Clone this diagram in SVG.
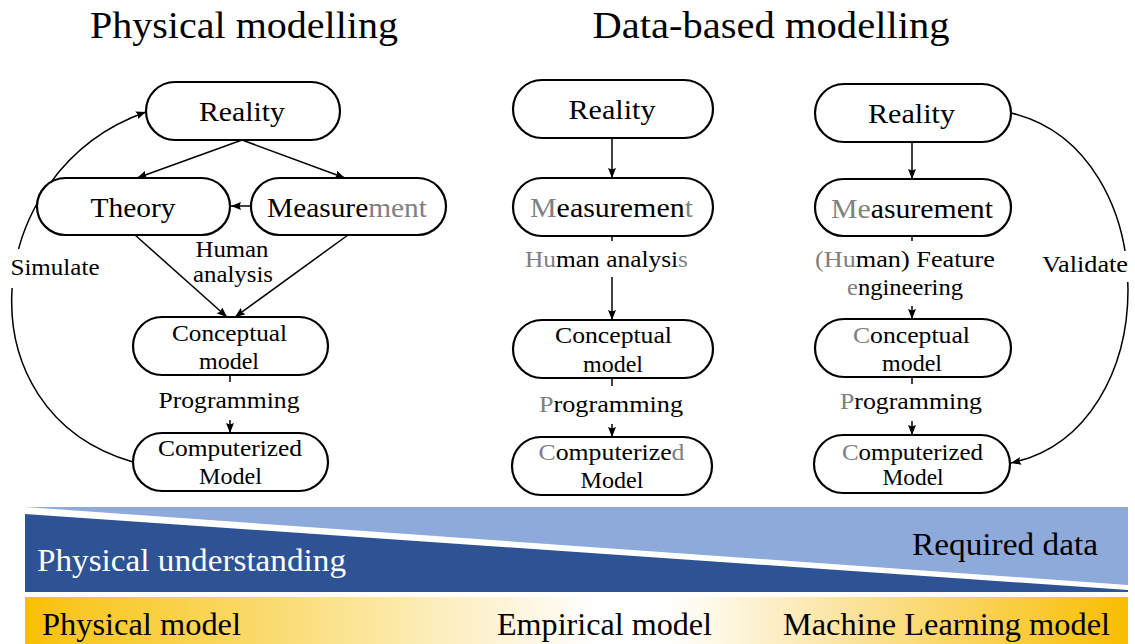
<svg xmlns="http://www.w3.org/2000/svg" width="1135" height="644" viewBox="0 0 1135 644" font-family="'Liberation Serif', 'DejaVu Serif', serif">
  <style>
    text { font-family: 'Liberation Serif', 'DejaVu Serif', 'Times New Roman', serif; fill: #000; }
    .title { font-size: 37px; text-anchor: middle; }
    .lbl { font-size: 28px; text-anchor: middle; }
    .sm { font-size: 23px; text-anchor: middle; }
    .band { font-size: 31px; }
    .g { fill: #808080; }
    .w { fill: #fff; }
    .box { fill: #fff; stroke: #000; stroke-width: 2.2; }
    .edge { fill: none; stroke: #000; stroke-width: 1.5; marker-end: url(#arr); }
    .mask { fill: #fff; }
  </style>
  <defs>
    <marker id="arr" viewBox="0 0 10 8" refX="10" refY="4" markerWidth="10" markerHeight="8" markerUnits="userSpaceOnUse" orient="auto">
      <path d="M0,0 L10,4 L0,8 L1.5,4 Z" fill="#000"/>
    </marker>
    <!-- grey ends, black straight sides -->
    <linearGradient id="gMid" x1="0" y1="0" x2="1" y2="0">
      <stop offset="0" stop-color="#808080"/>
      <stop offset="0.22" stop-color="#808080"/>
      <stop offset="0.22" stop-color="#000"/>
      <stop offset="0.82" stop-color="#000"/>
      <stop offset="0.82" stop-color="#808080"/>
      <stop offset="1" stop-color="#808080"/>
    </linearGradient>
    <!-- grey left end, black elsewhere -->
    <linearGradient id="gRight" x1="0" y1="0" x2="1" y2="0">
      <stop offset="0" stop-color="#808080"/>
      <stop offset="0.235" stop-color="#808080"/>
      <stop offset="0.235" stop-color="#000"/>
      <stop offset="1" stop-color="#000"/>
    </linearGradient>
    <!-- black left part, grey right part -->
    <linearGradient id="gMeas" x1="0" y1="0" x2="1" y2="0">
      <stop offset="0" stop-color="#000"/>
      <stop offset="0.63" stop-color="#000"/>
      <stop offset="0.63" stop-color="#808080"/>
      <stop offset="1" stop-color="#808080"/>
    </linearGradient>
    <linearGradient id="gold" gradientUnits="userSpaceOnUse" x1="25" y1="0" x2="1128" y2="0">
      <stop offset="0" stop-color="#F8BE00"/>
      <stop offset="0.05" stop-color="#F9C824"/>
      <stop offset="0.2" stop-color="#FAD864"/>
      <stop offset="0.35" stop-color="#FCEBB0"/>
      <stop offset="0.47" stop-color="#FEF8E8"/>
      <stop offset="0.52" stop-color="#FFFFFF"/>
      <stop offset="0.58" stop-color="#FFFFFF"/>
      <stop offset="0.66" stop-color="#FDF2D2"/>
      <stop offset="0.76" stop-color="#FBE196"/>
      <stop offset="0.88" stop-color="#FAD04C"/>
      <stop offset="1" stop-color="#F8BE00"/>
    </linearGradient>
  </defs>

  <rect width="1135" height="644" fill="#fff"/>

  <!-- headings -->
  <text class="title" x="244" y="38" textLength="308" lengthAdjust="spacingAndGlyphs">Physical modelling</text>
  <text class="title" x="771" y="38" textLength="357" lengthAdjust="spacingAndGlyphs">Data-based modelling</text>

  <!-- connectors -->
  <g id="connectors">
    <!-- physical modelling -->
    <line class="edge" x1="242" y1="140" x2="137" y2="178"/>
    <line class="edge" x1="242" y1="140" x2="345" y2="178"/>
    <line class="edge" x1="251" y1="206" x2="231" y2="206"/>
    <line class="edge" x1="135" y1="235" x2="227" y2="317"/>
    <line class="edge" x1="348" y1="235" x2="235" y2="317"/>
    <line class="edge" x1="230" y1="375" x2="230" y2="433"/>
    <path class="edge" d="M133,462 C-41,412 -20,170 146,112"/>
    <rect class="mask" x="5" y="249" width="98" height="39"/>
    <rect class="mask" x="150" y="382" width="160" height="38"/>
    <text class="sm" x="232" y="257" textLength="73" lengthAdjust="spacingAndGlyphs">Human</text>
    <text class="sm" x="233" y="282" textLength="80" lengthAdjust="spacingAndGlyphs">analysis</text>
    <text class="sm" x="55" y="275" textLength="89" lengthAdjust="spacingAndGlyphs">Simulate</text>
    <text class="sm" x="229" y="408" textLength="141" lengthAdjust="spacingAndGlyphs">Programming</text>

    <!-- data-based, human analysis -->
    <line class="edge" x1="612" y1="138" x2="612" y2="178"/>
    <line class="edge" x1="612" y1="236" x2="612" y2="320"/>
    <line class="edge" x1="612" y1="378" x2="612" y2="437"/>
    <rect class="mask" x="520" y="241" width="175" height="36"/>
    <rect class="mask" x="530" y="386" width="165" height="38"/>
    <text class="sm" x="606.5" y="267" textLength="163" lengthAdjust="spacingAndGlyphs"><tspan class="g">Hu</tspan>man analysi<tspan class="g">s</tspan></text>
    <text class="sm" x="611" y="412" textLength="144" lengthAdjust="spacingAndGlyphs"><tspan class="g">P</tspan>rogramming</text>

    <!-- data-based, feature engineering -->
    <line class="edge" x1="912" y1="142" x2="912" y2="179"/>
    <line class="edge" x1="912" y1="236" x2="912" y2="319"/>
    <line class="edge" x1="912" y1="377" x2="912" y2="435"/>
    <path class="edge" d="M1011,113 C1167,150 1167,430 1011,463"/>
    <rect class="mask" x="808" y="241" width="194" height="65"/>
    <rect class="mask" x="830" y="384" width="160" height="37"/>
    <rect class="mask" x="1038" y="251" width="95" height="31"/>
    <text class="sm" x="905" y="267" textLength="180" lengthAdjust="spacingAndGlyphs"><tspan class="g">(Hu</tspan>man) Feature</text>
    <text class="sm" x="905" y="295" textLength="116" lengthAdjust="spacingAndGlyphs"><tspan class="g">e</tspan>ngineering</text>
    <text class="sm" x="911" y="409" textLength="142" lengthAdjust="spacingAndGlyphs"><tspan class="g">P</tspan>rogramming</text>
    <text class="sm" x="1085" y="272" textLength="86" lengthAdjust="spacingAndGlyphs">Validate</text>
  </g>

  <!-- physical modelling nodes -->
  <g id="phys-reality">
    <rect class="box" x="146" y="82" width="194" height="58" rx="29"/>
    <text class="lbl" x="242" y="121" textLength="86" lengthAdjust="spacingAndGlyphs">Reality</text>
  </g>
  <g id="phys-theory">
    <rect class="box" x="37" y="178" width="193" height="57" rx="28.5"/>
    <text class="lbl" x="133" y="217" textLength="85" lengthAdjust="spacingAndGlyphs">Theory</text>
  </g>
  <g id="phys-measurement">
    <rect class="box" x="251" y="178" width="195" height="57" rx="28.5" stroke="url(#gMeas)"/>
    <text class="lbl" x="347" y="217" textLength="160" lengthAdjust="spacingAndGlyphs">Measure<tspan class="g">ment</tspan></text>
  </g>
  <g id="phys-conceptual">
    <rect class="box" x="133" y="317" width="195" height="58" rx="29"/>
    <text class="sm" x="229.5" y="341" textLength="115" lengthAdjust="spacingAndGlyphs">Conceptual</text>
    <text class="sm" x="229" y="369" textLength="60" lengthAdjust="spacingAndGlyphs">model</text>
  </g>
  <g id="phys-computerized">
    <rect class="box" x="133" y="433" width="195" height="58" rx="29"/>
    <text class="sm" x="230" y="456" textLength="144" lengthAdjust="spacingAndGlyphs">Computerized</text>
    <text class="sm" x="230.5" y="484" textLength="63" lengthAdjust="spacingAndGlyphs">Model</text>
  </g>

  <!-- data-based nodes, human analysis route -->
  <g id="emp-reality">
    <rect class="box" x="513" y="80" width="200" height="58" rx="29" stroke="url(#gMid)"/>
    <text class="lbl" x="612" y="119" textLength="87" lengthAdjust="spacingAndGlyphs">Reality</text>
  </g>
  <g id="emp-measurement">
    <rect class="box" x="513" y="178" width="200" height="58" rx="29" stroke="url(#gMid)"/>
    <text class="lbl" x="611.5" y="217" textLength="163" lengthAdjust="spacingAndGlyphs"><tspan class="g">M</tspan>easuremen<tspan class="g">t</tspan></text>
  </g>
  <g id="emp-conceptual">
    <rect class="box" x="513" y="320" width="200" height="58" rx="29" stroke="url(#gMid)"/>
    <text class="sm" x="613.5" y="343" textLength="117" lengthAdjust="spacingAndGlyphs">Conceptual</text>
    <text class="sm" x="613" y="372" textLength="60" lengthAdjust="spacingAndGlyphs">model</text>
  </g>
  <g id="emp-computerized">
    <rect class="box" x="512" y="437" width="200" height="58" rx="29" stroke="url(#gMid)"/>
    <text class="sm" x="611.5" y="460" textLength="146" lengthAdjust="spacingAndGlyphs"><tspan class="g">C</tspan>omputerize<tspan class="g">d</tspan></text>
    <text class="sm" x="612" y="488" textLength="63" lengthAdjust="spacingAndGlyphs">Model</text>
  </g>

  <!-- data-based nodes, feature engineering route -->
  <g id="ml-reality">
    <rect class="box" x="815" y="84" width="196" height="58" rx="29" stroke="url(#gRight)"/>
    <text class="lbl" x="911.5" y="123" textLength="87" lengthAdjust="spacingAndGlyphs">Reality</text>
  </g>
  <g id="ml-measurement">
    <rect class="box" x="815" y="179" width="196" height="57" rx="28.5" stroke="url(#gRight)"/>
    <text class="lbl" x="912" y="218" textLength="162" lengthAdjust="spacingAndGlyphs"><tspan class="g">Me</tspan>asurement</text>
  </g>
  <g id="ml-conceptual">
    <rect class="box" x="815" y="319" width="196" height="58" rx="29" stroke="url(#gRight)"/>
    <text class="sm" x="911.5" y="343" textLength="117" lengthAdjust="spacingAndGlyphs"><tspan class="g">C</tspan>onceptual</text>
    <text class="sm" x="912" y="371" textLength="60" lengthAdjust="spacingAndGlyphs">model</text>
  </g>
  <g id="ml-computerized">
    <rect class="box" x="814" y="435" width="196" height="58" rx="29" stroke="url(#gRight)"/>
    <text class="sm" x="912.5" y="460" textLength="141" lengthAdjust="spacingAndGlyphs"><tspan class="g">C</tspan>omputerized</text>
    <text class="sm" x="913" y="485" textLength="61" lengthAdjust="spacingAndGlyphs">Model</text>
  </g>

  <!-- understanding vs. data wedges -->
  <g id="wedges">
    <polygon points="25,507 1128,507 1128,585" fill="#8EAADB"/>
    <polygon points="25,514 1128,590 1128,592 25,592" fill="#2E5395"/>
    <text class="band w" x="37" y="571" textLength="309" lengthAdjust="spacingAndGlyphs">Physical understanding</text>
    <text class="band" x="912" y="555" textLength="186" lengthAdjust="spacingAndGlyphs">Required data</text>
  </g>

  <!-- model type scale -->
  <g id="model-scale">
    <rect x="25" y="597" width="1103" height="47" fill="url(#gold)"/>
    <text class="band" x="42" y="635" textLength="199" lengthAdjust="spacingAndGlyphs">Physical model</text>
    <text class="band" x="497" y="635" textLength="215" lengthAdjust="spacingAndGlyphs">Empirical model</text>
    <text class="band" x="783" y="635" textLength="327" lengthAdjust="spacingAndGlyphs">Machine Learning model</text>
  </g>
</svg>
